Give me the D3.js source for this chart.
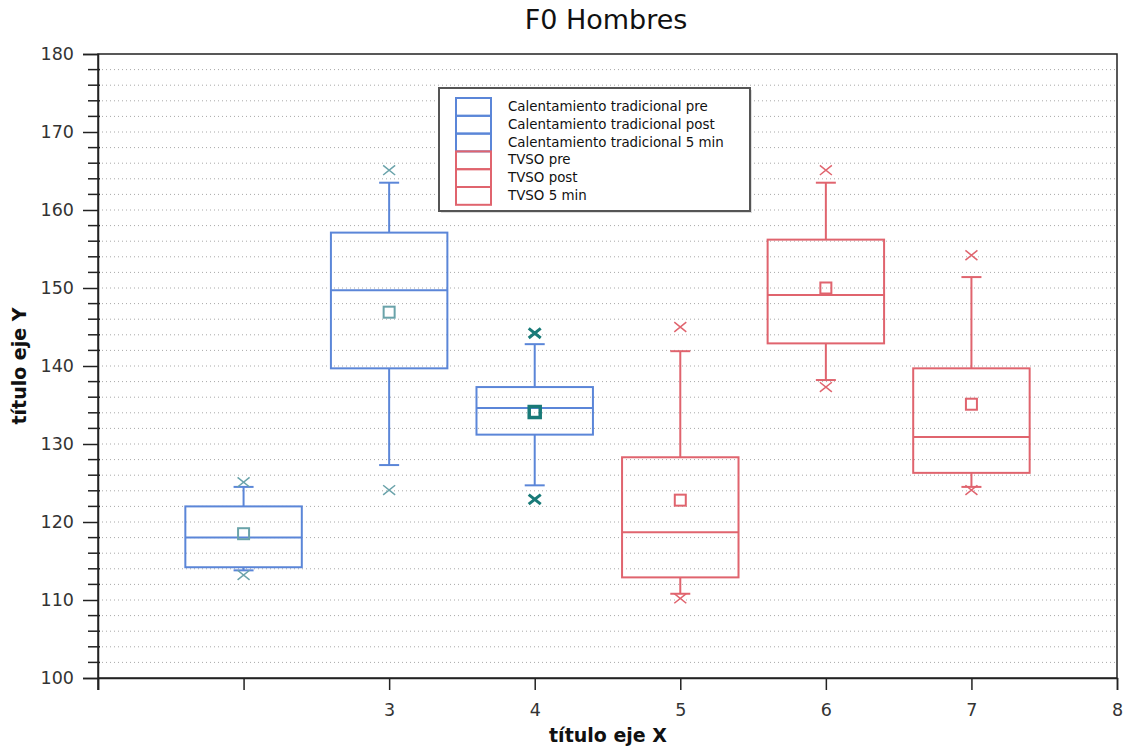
<!DOCTYPE html>
<html><head><meta charset="utf-8">
<script src="https://cdn.jsdelivr.net/npm/d3@7"></script>
<style>body{margin:0;background:#fff}</style>
</head><body>
<svg id="c" width="1127" height="753"></svg>
<script>
const seriesNames = ["Calentamiento tradicional pre","Calentamiento tradicional post","Calentamiento tradicional 5 min","TVSO pre","TVSO post","TVSO 5 min"];
const positions = [2,3,4,5,6,7];
const q1 = [114.2,139.7,131.2,112.9,142.9,126.3];
const median = [118.0,149.7,134.6,118.7,149.1,130.9];
const q3 = [122.0,157.1,137.3,128.3,156.2,139.7];
const mean = [118.5,146.9,134.1,122.8,150.0,135.1];
const whiskerLow = [113.8,127.3,124.7,110.8,138.2,124.5];
const whiskerHigh = [124.5,163.5,142.8,141.9,163.5,151.4];
const minVal = [113.2,124.1,122.9,110.2,137.3,124.1];
const maxVal = [125.1,165.1,144.2,145.0,165.1,154.2];
const xTicks = [1,2,3,4,5,6,7,8];
const xTickLabels = ["","","3","4","5","6","7","8"];
const yTicks = [100,110,120,130,140,150,160,170,180];

const boxColors = ["#5b86d8","#5b86d8","#5b86d8","#e0646e","#e0646e","#e0646e"];
const markColors = ["#6aa3aa","#6aa3aa","#197a78","#e0646e","#e0646e","#e0646e"];
const markWidths = [1.5,1.5,3,1.5,1.5,1.5];

const svg = d3.select("#c");
const L=98,R=1117,T=54,B=678;
const x = d3.scaleLinear().domain([1,8]).range([L,R]);
const y = d3.scaleLinear().domain([100,180]).range([B,T]);

// grid
const gridVals = d3.range(102,180,2);
svg.append("g").selectAll("line").data(gridVals).join("line")
  .attr("x1",L).attr("x2",R).attr("y1",d=>y(d)).attr("y2",d=>y(d))
  .attr("stroke","#a8a8a8").attr("stroke-width",1).attr("stroke-dasharray","1,3");

// frame
svg.append("rect").attr("x",L).attr("y",T).attr("width",R-L).attr("height",B-T)
  .attr("fill","none").attr("stroke","#222").attr("stroke-width",1.5);

// y axis
const yAxis = d3.axisLeft(y).tickValues(yTicks).tickSize(15).tickPadding(9).tickFormat(d3.format("d"));
const gy = svg.append("g").attr("transform",`translate(${L},0)`).call(yAxis);
gy.select(".domain").attr("stroke","#222").attr("stroke-width",1.5);
gy.selectAll(".tick line").attr("stroke","#222").attr("stroke-width",1.5);
gy.selectAll("text").attr("font-family","DejaVu Sans, sans-serif").attr("font-size",17.5).attr("fill","#333");
// minor y ticks
const minor = d3.range(100,180,2).filter(v=>v%10!==0);
svg.append("g").selectAll("line").data(minor).join("line")
  .attr("x1",L-10).attr("x2",L+2).attr("y1",d=>y(d)).attr("y2",d=>y(d))
  .attr("stroke","#222").attr("stroke-width",1.5);
// extend y axis below
svg.append("line").attr("x1",L).attr("x2",L).attr("y1",B).attr("y2",B+12).attr("stroke","#222").attr("stroke-width",1.5);

// x axis
const xAxis = d3.axisBottom(x).tickValues(xTicks).tickSize(12).tickPadding(14).tickFormat((d,i)=>xTickLabels[i]);
const gx = svg.append("g").attr("transform",`translate(0,${B})`).call(xAxis);
gx.select(".domain").attr("stroke","#222").attr("stroke-width",1.5);
gx.selectAll(".tick line").attr("stroke","#222").attr("stroke-width",1.5);
gx.selectAll("text").attr("font-family","DejaVu Sans, sans-serif").attr("font-size",17.5).attr("fill","#333");

// boxes
const bw = x(1.4)-x(1); // half width 0.4 units
const cap = 10;
positions.forEach((p,i)=>{
  const g = svg.append("g");
  const cx = x(p), c = boxColors[i];
  g.append("line").attr("x1",cx).attr("x2",cx).attr("y1",y(q3[i])).attr("y2",y(whiskerHigh[i])).attr("stroke",c).attr("stroke-width",2);
  g.append("line").attr("x1",cx).attr("x2",cx).attr("y1",y(q1[i])).attr("y2",y(whiskerLow[i])).attr("stroke",c).attr("stroke-width",2);
  g.append("line").attr("x1",cx-cap).attr("x2",cx+cap).attr("y1",y(whiskerHigh[i])).attr("y2",y(whiskerHigh[i])).attr("stroke",c).attr("stroke-width",2);
  g.append("line").attr("x1",cx-cap).attr("x2",cx+cap).attr("y1",y(whiskerLow[i])).attr("y2",y(whiskerLow[i])).attr("stroke",c).attr("stroke-width",2);
  g.append("rect").attr("x",cx-bw).attr("y",y(q3[i])).attr("width",2*bw).attr("height",y(q1[i])-y(q3[i]))
    .attr("fill","none").attr("stroke",c).attr("stroke-width",2);
  g.append("line").attr("x1",cx-bw).attr("x2",cx+bw).attr("y1",y(median[i])).attr("y2",y(median[i])).attr("stroke",c).attr("stroke-width",2);
  const mc = markColors[i], mw = markWidths[i];
  g.append("rect").attr("x",cx-5.5).attr("y",y(mean[i])-5.5).attr("width",11).attr("height",11)
    .attr("fill","none").attr("stroke",mc).attr("stroke-width",mw+0.5);
  [minVal[i],maxVal[i]].forEach(v=>{
    const yy=y(v), s=6;
    g.append("path").attr("d",`M${cx-s},${yy-s*0.8}L${cx+s},${yy+s*0.8}M${cx-s},${yy+s*0.8}L${cx+s},${yy-s*0.8}`)
      .attr("stroke",mc).attr("stroke-width",mw).attr("fill","none");
  });
});

// legend
const lg = svg.append("g");
lg.append("rect").attr("x",441).attr("y",90).attr("width",311).attr("height",123).attr("fill","#bbb").attr("opacity",0.5);
lg.append("rect").attr("x",439).attr("y",88).attr("width",311).attr("height",123).attr("fill","#fff").attr("stroke","#555").attr("stroke-width",2);
seriesNames.forEach((n,i)=>{
  const yy = 98 + i*17.8;
  lg.append("rect").attr("x",456).attr("y",yy).attr("width",35).attr("height",17.8)
    .attr("fill","none").attr("stroke",boxColors[i]).attr("stroke-width",2);
  lg.append("text").attr("x",508).attr("y",yy+13).text(n)
    .attr("font-family","DejaVu Sans, sans-serif").attr("font-size",13.4).attr("fill","#111");
});

// titles
svg.append("text").attr("x",606).attr("y",29).attr("text-anchor","middle").text("F0 Hombres")
  .attr("font-family","DejaVu Sans, sans-serif").attr("font-size",27).attr("fill","#111");
svg.append("text").attr("x",608).attr("y",742).attr("text-anchor","middle").text("título eje X")
  .attr("font-family","DejaVu Sans, sans-serif").attr("font-size",19).attr("font-weight","bold").attr("fill","#111");
svg.append("text").attr("transform","translate(26,366) rotate(-90)").attr("text-anchor","middle").text("título eje Y")
  .attr("font-family","DejaVu Sans, sans-serif").attr("font-size",19).attr("font-weight","bold").attr("fill","#111");
</script>
</body></html>
